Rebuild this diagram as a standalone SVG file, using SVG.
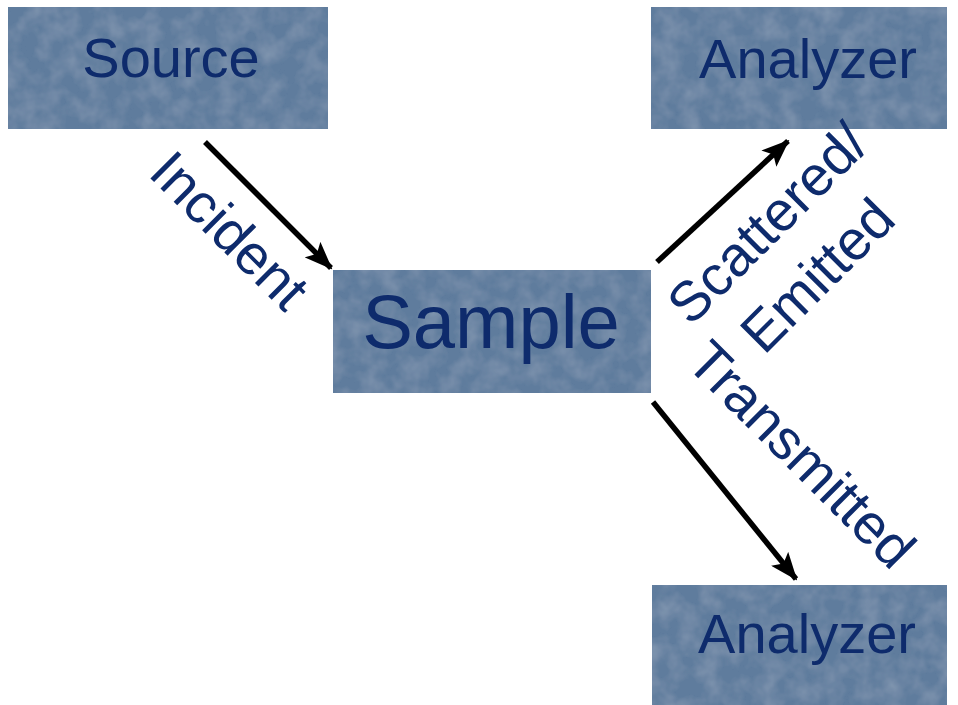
<svg xmlns="http://www.w3.org/2000/svg" width="958" height="705" viewBox="0 0 958 705">
  <defs>
    <style>
      .box { fill: #5f7b9d; }
      .label { font-family: "Liberation Sans", Arial, sans-serif; fill: #0e2b6c; text-anchor: middle; }
      .node-text { font-size: 56px; }
      .big { font-size: 76px; }
      .edge-text { font-size: 56px; }
      .arrow { stroke: #000; stroke-width: 5.5; fill: none; marker-end: url(#head); }
    </style>
    <marker id="head" viewBox="0 0 28 22" refX="26" refY="11" markerWidth="28" markerHeight="22" markerUnits="userSpaceOnUse" orient="auto">
      <path d="M0,0 L28,11 L0,22 L6,11 Z" fill="#000"/>
    </marker>
    <!-- faint mottled stone-like surface for the boxes -->
    <filter id="mottle" x="0" y="0" width="100%" height="100%">
      <feTurbulence type="fractalNoise" baseFrequency="0.05" numOctaves="3" seed="4" result="n"/>
      <feColorMatrix in="n" type="matrix" values="0 0 0 0 0.58  0 0 0 0 0.66  0 0 0 0 0.76  0 0 0 0.35 -0.12" result="tint"/>
      <feComposite in="tint" in2="SourceGraphic" operator="in" result="spots"/>
      <feMerge>
        <feMergeNode in="SourceGraphic"/>
        <feMergeNode in="spots"/>
      </feMerge>
    </filter>
  </defs>

  <rect width="958" height="705" fill="#ffffff"/>

  <g id="source">
    <rect class="box" x="8" y="7" width="320" height="122" filter="url(#mottle)"/>
    <text class="label node-text" x="171" y="77">Source</text>
  </g>

  <g id="analyzer-top">
    <rect class="box" x="651" y="7" width="296" height="122" filter="url(#mottle)"/>
    <text class="label node-text" x="808" y="78">Analyzer</text>
  </g>

  <g id="sample">
    <rect class="box" x="333" y="270" width="318" height="123" filter="url(#mottle)"/>
    <text class="label big" x="491" y="348">Sample</text>
  </g>

  <g id="analyzer-bottom">
    <rect class="box" x="652" y="585" width="295" height="125" filter="url(#mottle)"/>
    <text class="label node-text" x="807" y="653">Analyzer</text>
  </g>

  <g id="connectors">
    <line class="arrow" x1="205" y1="142" x2="331" y2="268"/>
    <line class="arrow" x1="657" y1="262" x2="788" y2="141"/>
    <line class="arrow" x1="653" y1="402" x2="796" y2="579"/>

    <text class="label edge-text" transform="translate(216,244) rotate(45)">Incident</text>
    <text class="label edge-text" transform="translate(781,237) rotate(-45)">Scattered/</text>
    <text class="label edge-text" transform="translate(831,289) rotate(-45)">Emitted</text>
    <text class="label edge-text" transform="translate(788,468) rotate(45)">Transmitted</text>
  </g>
</svg>
